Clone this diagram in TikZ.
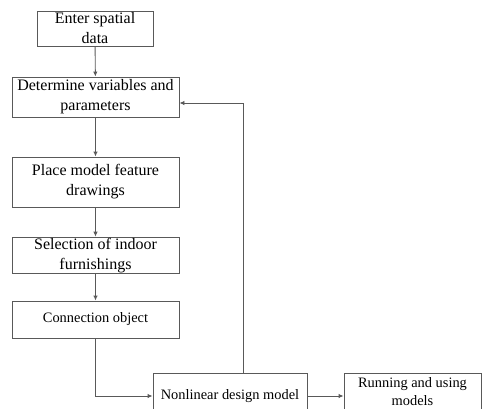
\documentclass[tikz,border=0pt]{standalone}
\usepackage{fontspec}
\setmainfont{Liberation Serif}
\usetikzlibrary{positioning, arrows.meta}

\begin{document}
\begin{tikzpicture}[x=1pt, y=-1pt,
        box/.style={draw=black!65, line width=0.9pt, align=center, inner sep=1pt,
                    font=\fontsize{16}{20}\selectfont},
        smallbox/.style={box, font=\fontsize{14.4}{18}\selectfont},
        link/.style={draw=black!65, line width=0.9pt, -{Latex[length=5pt,width=4.5pt]}}]
        \useasboundingbox (0,0) rectangle (488,408);
        % Nodes
        \node[box, minimum width=116pt, minimum height=35pt] (enter) at (95,28.5) {Enter spatial\\data};
        \node[box, minimum width=167pt, minimum height=40pt] (param) at (95.5,97) {Determine variables and\\parameters};
        \node[box, minimum width=167pt, minimum height=50pt] (place) at (95.5,182) {Place model feature\\drawings};
        \node[box, minimum width=167pt, minimum height=35pt] (furn) at (95.5,255.5) {Selection of indoor\\furnishings};
        \node[smallbox, minimum width=167pt, minimum height=37pt] (conn) at (95.5,319.5) {Connection object};
        \node[smallbox, minimum width=154pt, minimum height=46pt] (nonlin) at (230,396) {Nonlinear design model};
        \node[smallbox, minimum width=137pt, minimum height=38pt] (run) at (412.5,392) {Running and using\\models};
        \coordinate (back) at (243,103);

        % Edges
        \draw[link] (enter) -- (param);
        \draw[link] (param) -- (place);
        \draw[link] (place) -- (furn);
        \draw[link] (furn) -- (conn);
        \draw[link] (conn.south) |- (nonlin.west);
        \draw[link] (nonlin.east) -- (nonlin.east -| run.west);
        \draw[link] (nonlin.north -| back) -- (back) -- (back -| param.east);
    \end{tikzpicture}
\end{document}
